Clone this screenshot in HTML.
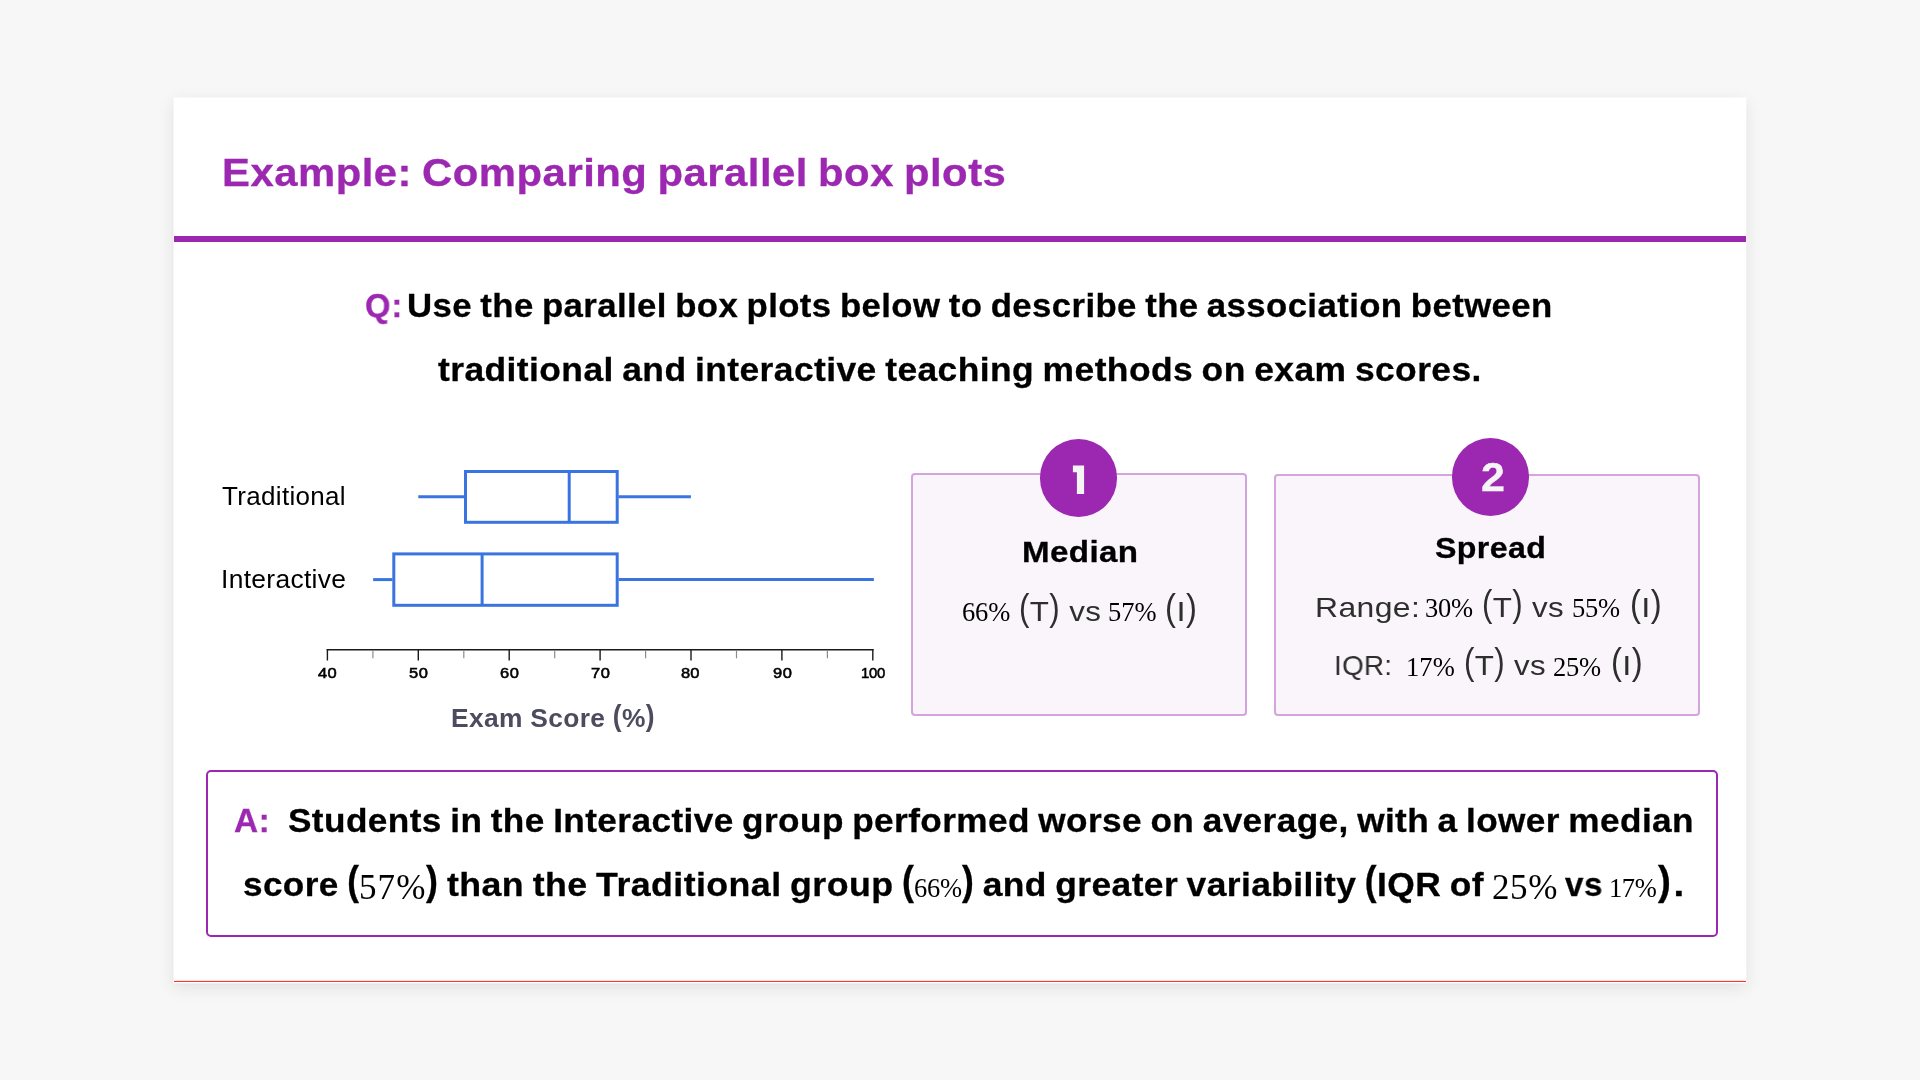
<!DOCTYPE html>
<html lang="en">
<head>
<meta charset="utf-8">
<title>Example: Comparing parallel box plots</title>
<style>
  html, body { margin: 0; padding: 0; }
  body {
    width: 1920px; height: 1080px; overflow: hidden; position: relative;
    background: #f7f7f7;
    font-family: "Liberation Sans", sans-serif;
    color: #000;
  }
  .slide {
    position: absolute; left: 0; top: 0; width: 1573.3px; height: 885.6px;
    transform: translate(173.4px, 97.4px);
    background: #fff;
    box-shadow: 0 5px 16px rgba(0,0,0,0.09), 0 1px 3px rgba(0,0,0,0.04);
  }
  .redline { position: absolute; left: 174px; top: 981px; width: 1572px; height: 1px; background: #f33a2c; box-shadow: 0 -0.5px 0 rgba(243,58,44,0.25); }
  .rule { position: absolute; left: 174px; top: 236px; width: 1572px; height: 6px; background: #9c27b0; }
  .t {
    will-change: transform;
    transform-origin: 0 50%;
    position: absolute; white-space: pre; line-height: 1; margin: 0; padding: 0;
    font-family: "Liberation Sans", sans-serif;
  }
  .b { font-weight: bold; -webkit-text-stroke: 0.3px currentColor; word-spacing: -0.05em; }
  .ax { font-weight: bold; }
  .lt { color: #2e2e2e; }
  .tk { font-weight: normal; -webkit-text-stroke: 0.55px #000; }
  .p { color: #9c27b0; }
  .pr, .prb { font-style: normal; display: inline-block; transform-origin: 50% 84.65%; }
  .pr { transform: translateY(-0.05em) scaleY(1.295); }
  .prb { transform: translateY(-0.035em) scaleY(1.19); }
  .m { font-family: "Liberation Serif", serif; font-weight: normal; }
  .card {
    position: absolute; box-sizing: border-box;
    background: #faf5fb; border: 2px solid #d4a4dd; border-radius: 4px;
  }
  .badge {
    position: absolute; width: 77.5px; height: 77.5px; border-radius: 50%;
    background: #9c27b0;
  }
  .answer {
    position: absolute; box-sizing: border-box; left: 206px; top: 770px; width: 1512px; height: 167px;
    border: 2px solid #9c27b0; border-radius: 5px; background: #fff;
  }
  svg { position: absolute; left: 0; top: 0; overflow: visible; }
</style>
</head>
<body>
<div class="slide"></div>
<div class="redline"></div>
<div class="rule"></div>


<svg width="1920" height="1080" viewBox="0 0 1920 1080">
  <g fill="none" stroke="#3a74e0" stroke-width="3">
    <line x1="418.3" y1="496.8" x2="464.5" y2="496.8"/>
    <rect x="465.5" y="471.5" width="151.7" height="50.8" fill="#fff"/>
    <line x1="569.2" y1="471.5" x2="569.2" y2="522.3"/>
    <line x1="618.5" y1="496.8" x2="690.9" y2="496.8"/>
    <line x1="373.1" y1="579.6" x2="392.5" y2="579.6"/>
    <rect x="393.8" y="553.9" width="223.4" height="51.4" fill="#fff"/>
    <line x1="482.1" y1="553.9" x2="482.1" y2="605.3"/>
    <line x1="618.5" y1="579.6" x2="873.9" y2="579.6"/>
  </g>
  <g fill="none" stroke="#1a1a1a" stroke-width="1.4">
    <line x1="326.7" y1="649.7" x2="873.5" y2="649.7"/>
    <line x1="327.4" y1="649" x2="327.4" y2="660.5"/>
    <line x1="418.3" y1="649" x2="418.3" y2="660.5"/>
    <line x1="509.2" y1="649" x2="509.2" y2="660.5"/>
    <line x1="600.1" y1="649" x2="600.1" y2="660.5"/>
    <line x1="691.0" y1="649" x2="691.0" y2="660.5"/>
    <line x1="781.9" y1="649" x2="781.9" y2="660.5"/>
    <line x1="872.8" y1="649" x2="872.8" y2="660.5"/>
  </g>
  <g fill="none" stroke="#8c8c8c" stroke-width="1.2">
    <line x1="372.9" y1="650" x2="372.9" y2="658.3"/>
    <line x1="463.8" y1="650" x2="463.8" y2="658.3"/>
    <line x1="554.7" y1="650" x2="554.7" y2="658.3"/>
    <line x1="645.6" y1="650" x2="645.6" y2="658.3"/>
    <line x1="736.5" y1="650" x2="736.5" y2="658.3"/>
    <line x1="827.4" y1="650" x2="827.4" y2="658.3"/>
  </g>
</svg>

<div class="card" style="left:911px;top:473px;width:336px;height:243px;"></div>
<div class="card" style="left:1274px;top:474px;width:426px;height:242px;"></div>
<div class="badge" style="left:1039.8px;top:439.4px;"></div>
<div class="badge" style="left:1451.8px;top:438.2px;"></div>
<svg width="1920" height="1080" viewBox="0 0 1920 1080" role="img" aria-label="1"><title>1</title><path d="M1072.9 465.4H1084.1V493.9H1076.9V472.2H1072.9Z" fill="#f5f5f5"/></svg>

<div class="answer"></div>

<span class="t b p" id="title" style="left:221.85px;top:153.56px;font-size:38.2px;letter-spacing:0.462px;transform:scaleX(1.0954);">Example: Comparing parallel box plots</span>
<span class="t b p" id="q0" style="left:365.34px;top:289.34px;font-size:33.5px;letter-spacing:0.988px;transform:scaleX(0.9774);">Q:</span>
<span class="t b" id="q1" style="left:407.31px;top:289.34px;font-size:33.5px;letter-spacing:0.399px;transform:scaleX(1.0368);">Use the parallel box plots below to describe the association between</span>
<span class="t b" id="q2" style="left:438.20px;top:353.44px;font-size:33.5px;letter-spacing:0.401px;transform:scaleX(1.0567);">traditional and interactive teaching methods on exam scores.</span>
<span class="t " id="lt" style="left:222.34px;top:483.54px;font-size:25px;letter-spacing:0.315px;transform:scaleX(1.0395);">Traditional</span>
<span class="t " id="li" style="left:220.58px;top:566.84px;font-size:25px;letter-spacing:0.305px;transform:scaleX(1.0554);">Interactive</span>
<span class="t ax" id="ax" style="left:451.40px;top:706.21px;font-size:25.5px;letter-spacing:0.306px;transform:scaleX(1.0345);color:#4d4c5f;">Exam Score <i class="prb">(</i>%<i class="prb">)</i></span>
<span class="t b" id="b2" style="left:1480.58px;top:457.24px;font-size:40px;letter-spacing:0.000px;transform:scaleX(1.0772);color:#f5f5f5;">2</span>
<span class="t b" id="med" style="left:1022.11px;top:537.11px;font-size:30px;letter-spacing:0.343px;transform:scaleX(1.1044);">Median</span>
<span class="t m" id="c1a" style="left:961.69px;top:598.81px;font-size:26.5px;letter-spacing:-0.139px;">66%</span>
<span class="t lt" id="c1b" style="left:1018.80px;top:596.67px;font-size:28.5px;letter-spacing:0.326px;transform:scaleX(1.0987);"><i class="pr">(</i>T<i class="pr">)</i> vs</span>
<span class="t m" id="c1c" style="left:1107.88px;top:598.81px;font-size:26.5px;letter-spacing:-0.027px;">57%</span>
<span class="t lt" id="c1d" style="left:1165.40px;top:596.67px;font-size:28.5px;letter-spacing:0.414px;transform:scaleX(1.1500);"><i class="pr">(</i>I<i class="pr">)</i></span>
<span class="t b" id="spr" style="left:1434.59px;top:532.90px;font-size:30px;letter-spacing:0.355px;transform:scaleX(1.0702);">Spread</span>
<span class="t lt" id="r1a" style="left:1315.12px;top:592.97px;font-size:28.5px;letter-spacing:0.364px;transform:scaleX(1.1190);">Range:</span>
<span class="t m" id="r1b" style="left:1425.40px;top:595.11px;font-size:26.5px;letter-spacing:-0.278px;">30%</span>
<span class="t lt" id="r1c" style="left:1482.20px;top:592.97px;font-size:28.5px;letter-spacing:0.300px;transform:scaleX(1.0979);"><i class="pr">(</i>T<i class="pr">)</i> vs</span>
<span class="t m" id="r1d" style="left:1572.08px;top:595.11px;font-size:26.5px;letter-spacing:-0.235px;">55%</span>
<span class="t lt" id="r1e" style="left:1629.60px;top:592.97px;font-size:28.5px;letter-spacing:0.345px;transform:scaleX(1.1500);"><i class="pr">(</i>I<i class="pr">)</i></span>
<span class="t lt" id="r2a" style="left:1334.40px;top:651.47px;font-size:28.5px;letter-spacing:0.230px;transform:scaleX(0.9799);">IQR:</span>
<span class="t m" id="r2b" style="left:1405.94px;top:653.61px;font-size:26.5px;letter-spacing:0.100px;">17%</span>
<span class="t lt" id="r2c" style="left:1463.80px;top:651.47px;font-size:28.5px;letter-spacing:0.300px;transform:scaleX(1.0979);"><i class="pr">(</i>T<i class="pr">)</i> vs</span>
<span class="t m" id="r2d" style="left:1553.05px;top:653.61px;font-size:26.5px;letter-spacing:-0.222px;">25%</span>
<span class="t lt" id="r2e" style="left:1611.00px;top:651.47px;font-size:28.5px;letter-spacing:0.345px;transform:scaleX(1.1500);"><i class="pr">(</i>I<i class="pr">)</i></span>
<span class="t b p" id="a0" style="left:233.53px;top:803.94px;font-size:33.5px;letter-spacing:0.477px;transform:scaleX(0.9939);">A:</span>
<span class="t b" id="a1" style="left:287.88px;top:803.94px;font-size:33.5px;letter-spacing:0.401px;transform:scaleX(1.0495);">Students in the Interactive group performed worse on average, with a lower median</span>
<span class="t b" id="a2a" style="left:243.23px;top:868.24px;font-size:33.5px;letter-spacing:0.392px;transform:scaleX(1.0479);">score <i class="prb">(</i></span>
<span class="t m" id="a2b" style="left:359.34px;top:869.69px;font-size:35px;letter-spacing:1.103px;">57%</span>
<span class="t b" id="a2c" style="left:426.04px;top:868.24px;font-size:33.5px;letter-spacing:0.404px;transform:scaleX(1.0667);"><i class="prb">)</i> than the Traditional group <i class="prb">(</i></span>
<span class="t m" id="a2d" style="left:913.69px;top:874.81px;font-size:26.5px;letter-spacing:-0.307px;">66%</span>
<span class="t b" id="a2e" style="left:961.84px;top:868.24px;font-size:33.5px;letter-spacing:0.403px;transform:scaleX(1.0553);"><i class="prb">)</i> and greater variability <i class="prb">(</i>IQR of</span>
<span class="t m" id="a2f" style="left:1491.64px;top:869.69px;font-size:35px;letter-spacing:0.563px;">25%</span>
<span class="t b" id="a2g" style="left:1564.94px;top:868.24px;font-size:33.5px;letter-spacing:0.692px;transform:scaleX(0.9876);">vs</span>
<span class="t m" id="a2h" style="left:1608.94px;top:874.81px;font-size:26.5px;letter-spacing:-0.415px;">17%</span>
<span class="t b" id="a2i" style="left:1657.81px;top:868.24px;font-size:33.5px;letter-spacing:2.209px;transform:scaleX(1.1500);"><i class="prb">)</i>.</span>
<span class="t tk" id="tk40" style="left:318.15px;top:665.94px;font-size:14.6px;letter-spacing:0.192px;transform:scaleX(1.1300);">40</span>
<span class="t tk" id="tk50" style="left:408.99px;top:665.94px;font-size:14.6px;letter-spacing:0.491px;transform:scaleX(1.1300);">50</span>
<span class="t tk" id="tk60" style="left:500.16px;top:665.94px;font-size:14.6px;letter-spacing:0.494px;transform:scaleX(1.1300);">60</span>
<span class="t tk" id="tk70" style="left:590.60px;top:665.94px;font-size:14.6px;letter-spacing:0.442px;transform:scaleX(1.1300);">70</span>
<span class="t tk" id="tk80" style="left:681.32px;top:665.94px;font-size:14.6px;letter-spacing:0.147px;transform:scaleX(1.1300);">80</span>
<span class="t tk" id="tk90" style="left:772.89px;top:665.94px;font-size:14.6px;letter-spacing:0.592px;transform:scaleX(1.1300);">90</span>
<span class="t tk" id="tk100" style="left:861.15px;top:665.94px;font-size:14.6px;letter-spacing:-0.225px;transform:scaleX(1.0200);">100</span>
</body>
</html>
